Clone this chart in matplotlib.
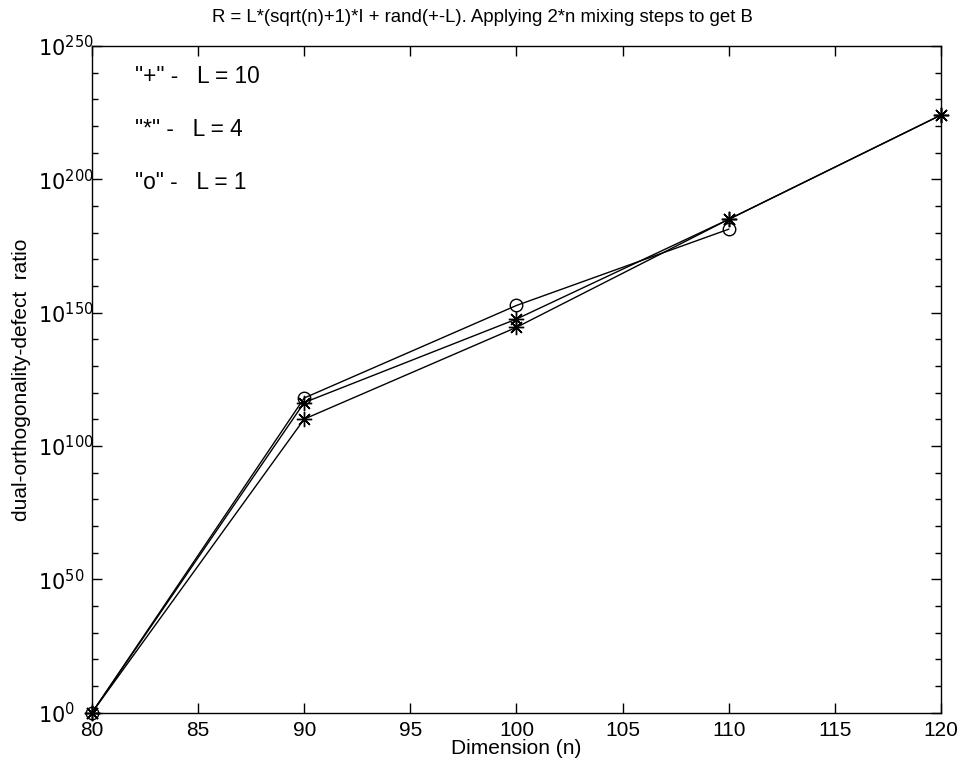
import numpy as np
import matplotlib
matplotlib.use("Agg")
import matplotlib.pyplot as plt

plt.rcParams['font.family'] = ['Liberation Sans', 'DejaVu Sans']

# dimension n
dims = [80, 90, 100, 110, 120]
dims_l1 = [80, 90, 100, 110]

# log10 of the ratio
l10_exp = [0, 110.1, 144.5, 185.0, 224.1]
l4_exp = [0, 116.3, 147.6, 185.0, 224.1]
l1_exp = [0, 118.0, 152.7, 181.3]

ytick_exp = [0, 50, 100, 150, 200, 250]
xticks = [80, 85, 90, 95, 100, 105, 110, 115, 120]

title = "R = L*(sqrt(n)+1)*I + rand(+-L). Applying 2*n mixing steps to get B"
notes = ['"+" -   L = 10', '"*" -   L = 4', '"o" -   L = 1']

fig = plt.figure(figsize=(9.64, 7.74), dpi=100)
ax = fig.add_axes([0.0954, 0.0792, 0.8807, 0.8614])

asterisk = (8, 2, 0)
ax.plot(dims, 10.0 ** np.array(l10_exp), color='black', lw=1.0,
        marker=asterisk, ms=11, mew=1.0, clip_on=False)
ax.plot(dims, 10.0 ** np.array(l4_exp), color='black', lw=1.0,
        marker=asterisk, ms=11, mew=1.0, clip_on=False)
ax.plot(dims_l1, 10.0 ** np.array(l1_exp), color='black', lw=1.0,
        marker='o', ms=9, mfc='none', mew=1.0, clip_on=False)

ax.set_yscale('log')
ax.set_xlim(80, 120)
ax.set_ylim(1e0, 1e250)
ax.set_xticks(xticks)
ax.set_xticklabels([str(x) for x in xticks])
ax.set_yticks([10.0 ** e for e in ytick_exp])
ax.set_yticklabels([r'$10^{%d}$' % e for e in ytick_exp])
minor = [10.0 ** e for e in range(0, 251, 10) if e % 50 != 0]
ax.set_yticks(minor, minor=True)
ax.set_yticklabels([], minor=True)

ax.tick_params(which='both', direction='in', top=True, right=True, width=1.0)
ax.tick_params(which='major', length=7)
ax.tick_params(which='minor', length=4)
ax.tick_params(axis='x', labelsize=15, pad=6)
ax.tick_params(axis='y', labelsize=15, pad=39)
for lab in ax.get_yticklabels():
    lab.set_horizontalalignment('left')
for s in ax.spines.values():
    s.set_linewidth(1.0)

ax.set_xlabel('Dimension (n)', fontsize=15, labelpad=-1)
ax.set_ylabel('dual-orthogonality-defect  ratio', fontsize=15, labelpad=5)
fig.text(0.5, 1 - 18 / 774, title, fontsize=13.4, ha='center', va='center')

for i, t in enumerate(notes):
    ax.text(0.051, 0.954 - i * 0.0795, t, transform=ax.transAxes,
            fontsize=16.3, va='center', ha='left')

fig.savefig('out.png', dpi=100)
